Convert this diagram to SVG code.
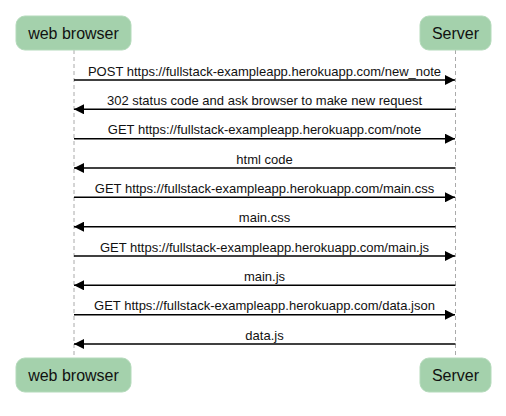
<svg xmlns="http://www.w3.org/2000/svg" width="506" height="416" viewBox="0 0 506 416">
<style>
.actor{fill:#a4d1ac;stroke:#b4dabb;stroke-width:1}
.atext{font-family:"Liberation Sans",Arial,sans-serif;font-size:16px;fill:#111;text-anchor:middle}
.life{stroke:#aaaaaa;stroke-width:1;stroke-dasharray:4,3;fill:none}
.msg{stroke:#000;stroke-width:1.5;fill:none}
.mtext{font-family:"Liberation Sans",Arial,sans-serif;font-size:13px;fill:#111;text-anchor:middle}
</style>
<defs>
<marker id="arr" viewBox="0 0 10 10" refX="10" refY="5" markerWidth="10" markerHeight="10" markerUnits="userSpaceOnUse" orient="auto">
<path d="M0,0 L10,5 L0,10 z" fill="#000"/>
</marker>
</defs>
<rect width="506" height="416" fill="#fff"/>
<g id="lifelines">
<line class="life" x1="74" y1="50" x2="74" y2="358"/>
<line class="life" x1="455.5" y1="50" x2="455.5" y2="358"/>
</g>
<g id="browser-top"><rect class="actor" x="16" y="16" width="115" height="34" rx="9"/><text class="atext" x="73.5" y="38.5">web browser</text></g>
<g id="server-top"><rect class="actor" x="420" y="16" width="71" height="34" rx="9"/><text class="atext" x="455.5" y="38.5">Server</text></g>
<g id="browser-bottom"><rect class="actor" x="16" y="358" width="115" height="34" rx="9"/><text class="atext" x="73.5" y="380.5">web browser</text></g>
<g id="server-bottom"><rect class="actor" x="420" y="358" width="71" height="34" rx="9"/><text class="atext" x="455.5" y="380.5">Server</text></g>
<g id="connectors">
<line class="msg" x1="74" y1="80" x2="455" y2="80" marker-end="url(#arr)"/>
<line class="msg" x1="455.5" y1="109.3" x2="74" y2="109.3" marker-end="url(#arr)"/>
<line class="msg" x1="74" y1="138.7" x2="455" y2="138.7" marker-end="url(#arr)"/>
<line class="msg" x1="455.5" y1="168" x2="74" y2="168" marker-end="url(#arr)"/>
<line class="msg" x1="74" y1="197.3" x2="455" y2="197.3" marker-end="url(#arr)"/>
<line class="msg" x1="455.5" y1="226.7" x2="74" y2="226.7" marker-end="url(#arr)"/>
<line class="msg" x1="74" y1="256" x2="455" y2="256" marker-end="url(#arr)"/>
<line class="msg" x1="455.5" y1="285.3" x2="74" y2="285.3" marker-end="url(#arr)"/>
<line class="msg" x1="74" y1="314.7" x2="455" y2="314.7" marker-end="url(#arr)"/>
<line class="msg" x1="455.5" y1="344" x2="74" y2="344" marker-end="url(#arr)"/>
</g>
<g id="labels">
<text class="mtext" x="264.5" y="75.5">POST https://fullstack-exampleapp.herokuapp.com/new_note</text>
<text class="mtext" x="264.5" y="104.8">302 status code and ask browser to make new request</text>
<text class="mtext" x="264.5" y="134.2">GET https://fullstack-exampleapp.herokuapp.com/note</text>
<text class="mtext" x="264.5" y="163.5">html code</text>
<text class="mtext" x="264.5" y="192.8">GET https://fullstack-exampleapp.herokuapp.com/main.css</text>
<text class="mtext" x="264.5" y="222.2">main.css</text>
<text class="mtext" x="264.5" y="251.5">GET https://fullstack-exampleapp.herokuapp.com/main.js</text>
<text class="mtext" x="264.5" y="280.8">main.js</text>
<text class="mtext" x="264.5" y="310.2">GET https://fullstack-exampleapp.herokuapp.com/data.json</text>
<text class="mtext" x="264.5" y="339.5">data.js</text>
</g>
</svg>
